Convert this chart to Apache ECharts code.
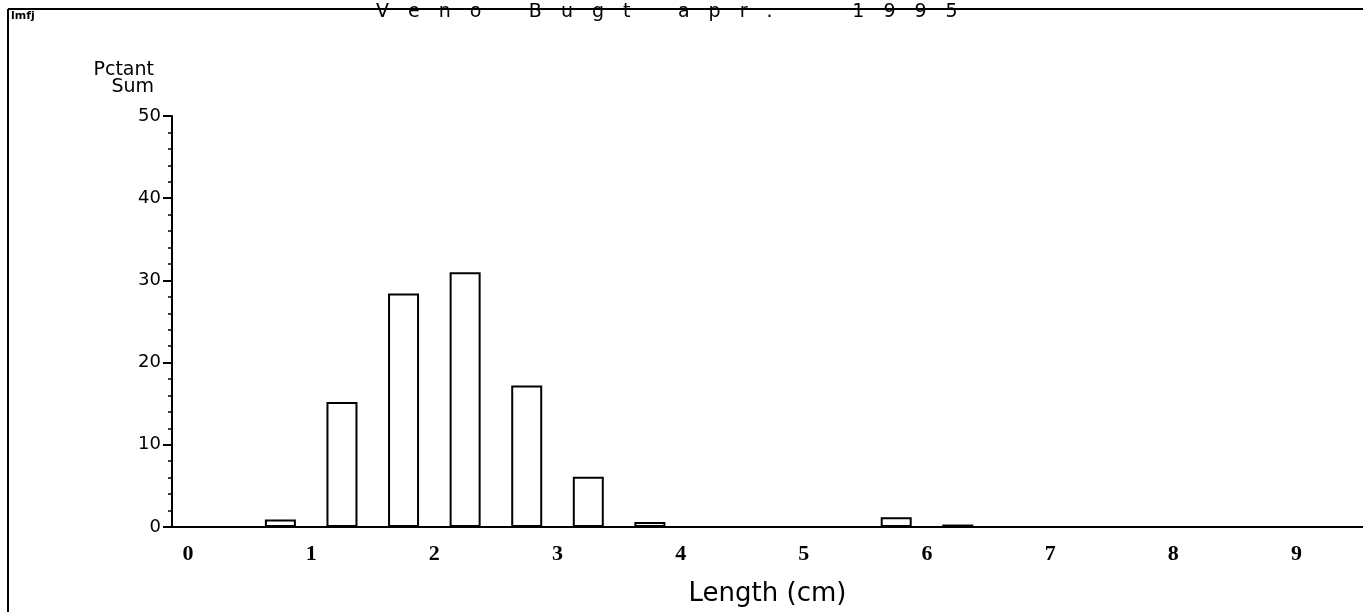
<!DOCTYPE html>
<html>
<head>
<meta charset="utf-8">
<script src="https://cdn.jsdelivr.net/npm/echarts@6/dist/echarts.min.js"></script>
<style>html,body{margin:0;padding:0;background:#fff;}#c{width:1363px;height:612px;}</style>
</head>
<body>
<div id="c"></div>
<script>
var titleText = "V\u2003e\u2003n\u2003o\u2003\u2003\u2002B\u2003u\u2003g\u2003t\u2003\u2003\u2002a\u2003p\u2003r\u2003.\u2003\u2003\u2003\u2003\u20091\u20039\u20039\u20035";
var cornerLabel = "lmfj";
var yAxisTitle = "Pctant\nSum";
var xAxisTitle = "Length (cm)";
var binCenters = [0.25, 0.75, 1.25, 1.75, 2.25, 2.75, 3.25, 3.75, 4.25, 4.75, 5.25, 5.75, 6.25, 6.75, 7.25, 7.75, 8.25, 8.75, 9.25];
var pctValues  = [0,    0.9,  15.2, 28.4, 31.0, 17.2, 6.1,  0.6,  0,    0,    0,    1.2,  0.3,  0,    0,    0,    0,    0,    0];
var xTickLabels = [0, 1, 2, 3, 4, 5, 6, 7, 8, 9];
var yTicks = [0, 10, 20, 30, 40, 50];

var chart = echarts.init(document.getElementById('c'), null, {renderer: 'canvas'});
var data = binCenters.map(function (c, i) { return [c, pctValues[i]]; });
chart.setOption({
  animation: false,
  backgroundColor: '#fff',
  grid: {left: 172, top: 116, right: 0, bottom: 83, containLabel: false},
  xAxis: {
    type: 'value', min: -0.13, max: 9.54,
    axisLine: {show: true, onZero: false, lineStyle: {color: '#000', width: 2}},
    axisTick: {show: false},
    splitLine: {show: false},
    axisLabel: {
      customValues: xTickLabels, margin: 16,
      fontFamily: 'Liberation Serif', fontWeight: 'bold', fontSize: 22, color: '#000'
    },
    name: xAxisTitle, nameLocation: 'middle', nameGap: 54,
    nameTextStyle: {fontFamily: 'DejaVu Sans', fontSize: 26, color: '#000'}
  },
  yAxis: {
    type: 'value', min: yTicks[0], max: yTicks[yTicks.length - 1], interval: 10,
    axisLine: {show: true, onZero: false, lineStyle: {color: '#000', width: 2}},
    axisTick: {show: true, length: 9, lineStyle: {color: '#000', width: 2}},
    minorTick: {show: true, splitNumber: 5, length: 4, lineStyle: {color: '#000', width: 1.5}},
    splitLine: {show: false},
    axisLabel: {margin: 11, fontFamily: 'DejaVu Sans', fontSize: 18, color: '#000'}
  },
  series: [{
    type: 'bar',
    data: data,
    barWidth: 31,
    itemStyle: {color: '#fff', borderColor: '#000', borderWidth: 2}
  }],
  graphic: [
    {type: 'line', shape: {x1: 8, y1: 9, x2: 1363, y2: 9}, style: {stroke: '#000', lineWidth: 2}},
    {type: 'line', shape: {x1: 8, y1: 9, x2: 8, y2: 612}, style: {stroke: '#000', lineWidth: 2}},
    {type: 'text', x: 11, y: 11, style: {text: cornerLabel, font: 'bold 11px "DejaVu Sans"', fill: '#000'}},
    {type: 'text', x: 376, y: 3, style: {text: titleText, font: '19px "DejaVu Sans"', fill: '#000'}},
    {type: 'text', x: 154, y: 62, style: {text: yAxisTitle, font: '19px "DejaVu Sans"', fill: '#000', align: 'right', lineHeight: 17}}
  ]
});
</script>
</body>
</html>
